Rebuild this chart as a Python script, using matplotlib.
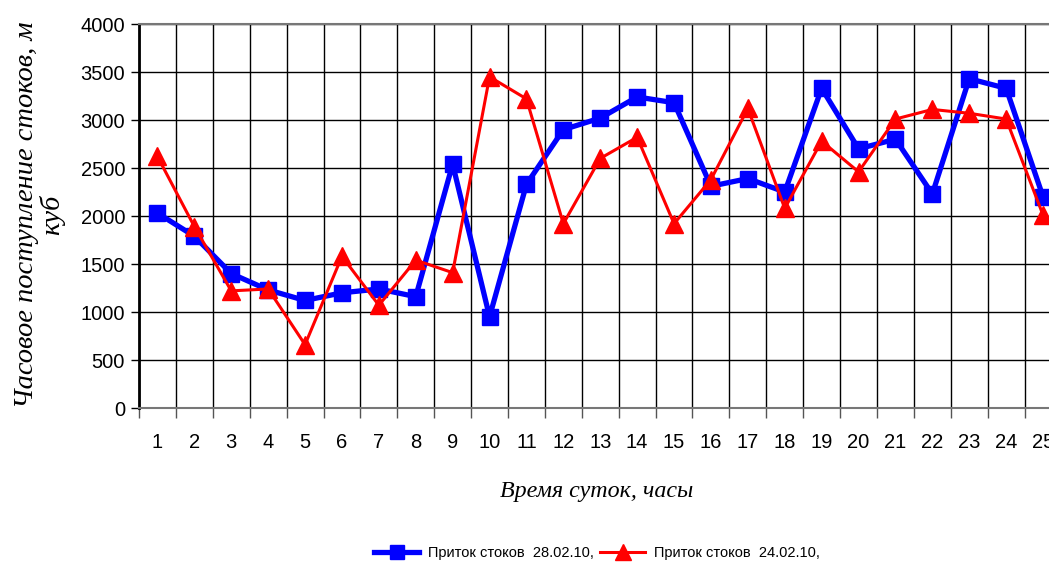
import matplotlib
matplotlib.use('Agg')
import matplotlib.pyplot as plt
import numpy as np

hours = list(range(1, 26))
inflow_2802 = [2030, 1790, 1400, 1230, 1120, 1200, 1240, 1160, 2540, 950,
               2330, 2900, 3020, 3240, 3180, 2310, 2390, 2250, 3330, 2700,
               2800, 2230, 3430, 3330, 2200]
inflow_2402 = [2620, 1890, 1220, 1240, 660, 1580, 1070, 1540, 1410, 3450,
               3220, 1920, 2600, 2820, 1920, 2380, 3120, 2080, 2780, 2460,
               3010, 3110, 3070, 3010, 2010]
label_2802 = 'Приток стоков  28.02.10,'
label_2402 = 'Приток стоков  24.02.10,'

plt.rcParams.update({'font.family': ['Liberation Sans', 'DejaVu Sans']})
fig = plt.figure(figsize=(10.49, 5.64), dpi=100)
W, H = 1049, 564
ax = fig.add_axes([139 / W, (H - 408) / H, 922.5 / W, 384 / H])

ax.plot(hours, inflow_2802, color='#0000ff', lw=3.8, marker='s', ms=11.5,
        label=label_2802, zorder=3)
ax.plot(hours, inflow_2402, color='#ff0000', lw=2.2, marker='^', ms=12.5,
        label=label_2402, zorder=4)

ax.set_xlim(0.5, 25.5)
ax.set_ylim(0, 4000)
ax.set_yticks(np.arange(0, 4001, 500))
ax.set_xticks(np.arange(0.5, 25.6, 1))
ax.set_xticklabels([])
ax.set_xticks(hours, minor=True)
ax.set_xticklabels([str(h) for h in hours], minor=True, fontsize=14.5)
ax.tick_params(axis='x', which='major', length=7, width=1, color='#555555', direction='out')
ax.tick_params(axis='x', which='minor', length=0, pad=18)
ax.tick_params(axis='y', length=6, width=1, labelsize=14.5, pad=4)
ax.grid(True, which='major', color='black', lw=1)

for s in ['top', 'bottom', 'right']:
    ax.spines[s].set_color('#777777')
    ax.spines[s].set_linewidth(1.5)
ax.spines['left'].set_linewidth(2)

fig.text(40 / W, 1 - 215 / H, 'Часовое поступление стоков, м\nкуб',
         family='Liberation Serif', style='italic', fontsize=20.5,
         rotation=90, ha='center', va='center', multialignment='center',
         linespacing=1.0)
fig.text(597 / W, 1 - 492 / H, 'Время суток, часы', family='Liberation Serif',
         style='italic', fontsize=17.3, ha='center', va='center')

fig.legend(loc='center', bbox_to_anchor=(597 / W, 1 - 553 / H), ncol=2,
           frameon=False, fontsize=10.5, handlelength=3.1, handletextpad=0.6,
           columnspacing=0.4, markerscale=0.9)

fig.savefig('out.png', dpi=100)
